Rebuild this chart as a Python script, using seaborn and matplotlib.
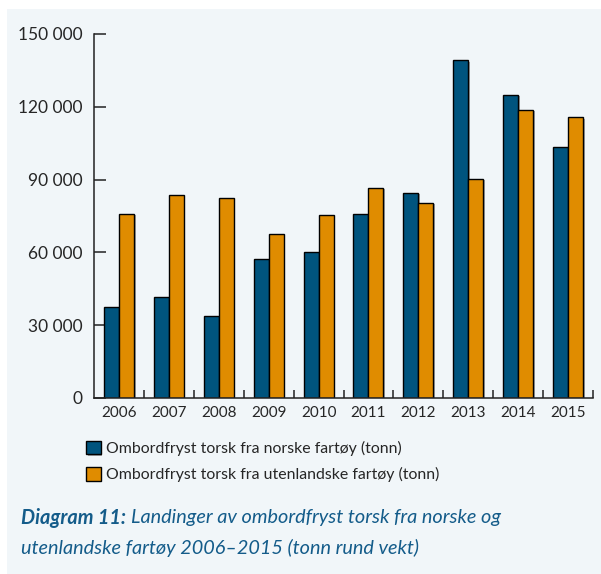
import matplotlib
matplotlib.use("Agg")
import matplotlib.pyplot as plt
import matplotlib.patches as mpatches
import matplotlib.patheffects as pe
import seaborn as sns
import pandas as pd

# Data
years = ["2006", "2007", "2008", "2009", "2010", "2011", "2012", "2013", "2014", "2015"]
norske = [37400, 41500, 33800, 57200, 60000, 75900, 84500, 139100, 125000, 103300]
utenlandske = [75800, 83800, 82300, 67700, 75400, 86500, 80300, 90200, 118700, 115600]
series_names = ["Ombordfryst torsk fra norske fartøy (tonn)",
                "Ombordfryst torsk fra utenlandske fartøy (tonn)"]
y_ticks = [0, 30000, 60000, 90000, 120000, 150000]

BLUE = "#00547E"
ORANGE = "#E08C00"
BG = "#F1F6F9"
CAPTION = "#145C8A"

df = pd.DataFrame({
    "year": years * 2,
    "value": norske + utenlandske,
    "series": [series_names[0]] * len(years) + [series_names[1]] * len(years),
})

sns.set_style("ticks")
plt.rcParams["font.family"] = ["Lato", "DejaVu Sans"]

fig = plt.figure(figsize=(6.01, 5.74), dpi=100)
fig.patch.set_facecolor("white")
fig.patches.append(mpatches.Rectangle((7 / 601, 0), 1, 1 - 9 / 574,
                                      transform=fig.transFigure,
                                      facecolor=BG, edgecolor="none", zorder=-10))

ax = fig.add_axes([94 / 601, 1 - 398 / 574, (593 - 94) / 601, (398 - 34) / 574])
ax.set_facecolor("none")

sns.barplot(data=df, x="year", y="value", hue="series", palette=[BLUE, ORANGE],
            width=0.6, gap=0, edgecolor="black", linewidth=1.0, ax=ax,
            saturation=1, legend=True)

for bar in ax.patches:
    bar.set_path_effects([pe.SimplePatchShadow(offset=(1.2, -0.8), shadow_rgbFace="#555555", alpha=0.5),
                          pe.Normal()])

ax.set_xlim(-0.5, 9.5)
ax.set_ylim(0, 150000)
ax.set_yticks(y_ticks)
ax.set_yticklabels([f"{v:,}".replace(",", " ") for v in y_ticks], fontsize=12.5)
ax.set_xticks(range(len(years)))
ax.set_xticklabels(years, fontsize=11)
ax.set_xticks([i + 0.5 for i in range(len(years))], minor=True)
ax.tick_params(axis="x", which="major", length=0, pad=6)
ax.tick_params(axis="x", which="minor", direction="in", length=6, width=1.1, color="#222222")
ax.tick_params(axis="y", direction="in", length=8.5, width=1.1, color="#222222", pad=8)
ax.set_xlabel("")
ax.set_ylabel("")
for s in ["top", "right"]:
    ax.spines[s].set_visible(False)
for s in ["left", "bottom"]:
    ax.spines[s].set_linewidth(1.1)
    ax.spines[s].set_color("#222222")

handles, labels = ax.get_legend_handles_labels()
ax.get_legend().remove()
fig.legend(handles, labels, loc="upper left", bbox_to_anchor=(72 / 601, 1 - 427 / 574),
           frameon=False, fontsize=11.4, handlelength=0.9, handleheight=0.9,
           handletextpad=0.35, labelspacing=0.7)

# caption: bold italic prefix followed by italic text
fig.canvas.draw()
renderer = fig.canvas.get_renderer()
t1 = fig.text(21 / 601, 1 - 518 / 574, "Diagram 11:", fontsize=14.3, fontstyle="italic",
              fontweight="bold", color=CAPTION, va="center", ha="left")
bb = t1.get_window_extent(renderer=renderer)
x_next = (bb.x1 + 5) / fig.bbox.width
fig.text(x_next, 1 - 518 / 574, "Landinger av ombordfryst torsk fra norske og",
         fontsize=14.3, fontstyle="italic", color=CAPTION, va="center", ha="left")
fig.text(21 / 601, 1 - 548 / 574, "utenlandske fartøy 2006–2015 (tonn rund vekt)",
         fontsize=14.3, fontstyle="italic", color=CAPTION, va="center", ha="left")

fig.savefig("out.png", dpi=100)
